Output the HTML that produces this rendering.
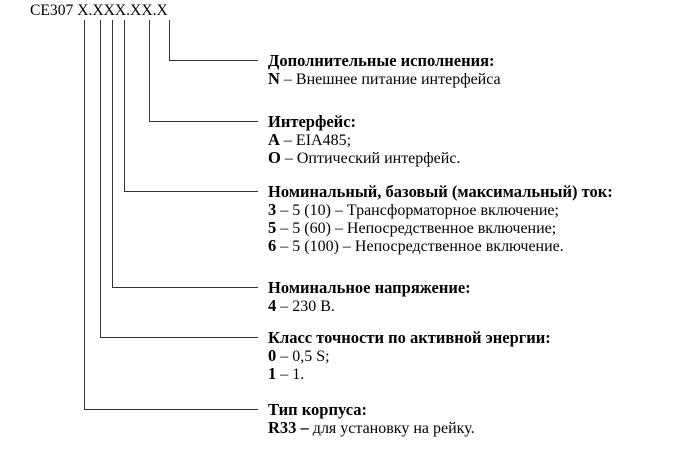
<!DOCTYPE html>
<html><head><meta charset="utf-8"><style>
html,body{margin:0;padding:0;background:#fff;width:695px;height:450px;overflow:hidden}
body{position:relative;font-family:"Liberation Serif",serif;font-size:16px;color:#000}
.t{position:absolute;left:268px;line-height:18px;white-space:nowrap}
.t div{height:18px}
.t b{font-size:16.5px}
.h{position:absolute;left:30px;top:2px;font-size:15.6px;line-height:18px}
svg{position:absolute;left:0;top:0}
</style></head><body>
<svg width="695" height="450">
<g stroke="#333" stroke-width="1" fill="none">
<polyline points="169.5,20 169.5,60.5 258,60.5"/>
<polyline points="149.5,20 149.5,121.5 258,121.5"/>
<polyline points="124.5,20 124.5,191.5 258,191.5"/>
<polyline points="112.5,20 112.5,287.5 258,287.5"/>
<polyline points="100.5,20 100.5,337.5 258,337.5"/>
<polyline points="84.5,20 84.5,409.5 258,409.5"/>
</g></svg>
<div class="h">CE307 X.XXX.XX.X</div>
<div class="t" style="top:52px"><div><b>Дополнительные исполнения:</b></div><div><b>N</b> – Внешнее питание интерфейса</div></div>
<div class="t" style="top:113px"><div><b>Интерфейс:</b></div><div><b>A</b> – EIA485;</div><div><b>O</b> – Оптический интерфейс.</div></div>
<div class="t" style="top:183px"><div><b>Номинальный, базовый (максимальный) ток:</b></div><div><b>3</b> – 5 (10) – Трансформаторное включение;</div><div><b>5</b> – 5 (60) – Непосредственное включение;</div><div><b>6</b> – 5 (100) – Непосредственное включение.</div></div>
<div class="t" style="top:279px"><div><b>Номинальное напряжение:</b></div><div><b>4</b> – 230 В.</div></div>
<div class="t" style="top:329px"><div><b>Класс точности по активной энергии:</b></div><div><b>0</b> – 0,5 S;</div><div><b>1</b> – 1.</div></div>
<div class="t" style="top:401px"><div><b>Тип корпуса:</b></div><div><b>R33 –</b> для установку на рейку.</div></div>
</body></html>
